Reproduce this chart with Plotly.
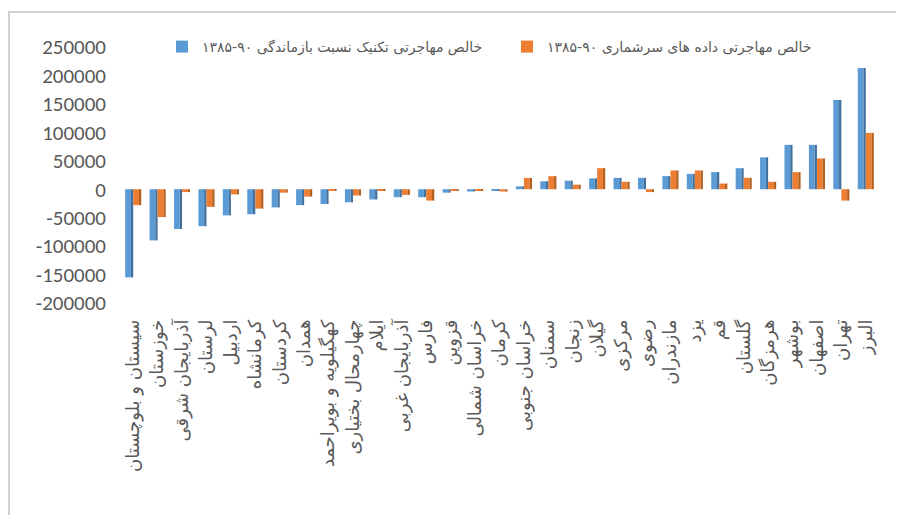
import plotly.graph_objects as go

provinces = [
    "سیستان و بلوچستان", "خوزستان", "آذربایجان شرقی", "لرستان", "اردبیل",
    "کرمانشاه", "کردستان", "همدان", "کهگیلویه و بویراحمد", "چهارمحال بختیاری",
    "ایلام", "آذربایجان غربی", "فارس", "قزوین", "خراسان شمالی", "کرمان",
    "خراسان جنوبی", "سمنان", "زنجان", "گیلان", "مرکزی", "رضوی", "مازندران",
    "یزد", "قم", "گلستان", "هرمزگان", "بوشهر", "اصفهان", "تهران", "البرز",
]

survival_ratio = [
    -155000, -90000, -70000, -65000, -46000, -44000, -32000, -28000, -26000,
    -23000, -18000, -14000, -14000, -6000, -4000, -2000, 5000, 14000, 15000,
    19000, 20000, 20000, 23000, 27000, 30000, 37000, 56000, 78000, 78000,
    157000, 213000,
]

census = [
    -28000, -49000, -5000, -31000, -9000, -34000, -6000, -13000, -2000,
    -11000, -2000, -10000, -20000, -3000, -2000, -4000, 20000, 23000, 8000,
    37000, 13000, -5000, 33000, 33000, 10000, 20000, 13000, 30000, 54000,
    -20000, 99000,
]

name_survival = "خالص مهاجرتی تکنیک نسبت بازماندگی ۹۰-۱۳۸۵"
name_census = "خالص مهاجرتی داده های سرشماری ۹۰-۱۳۸۵"

y_ticks = [-200000, -150000, -100000, -50000, 0, 50000, 100000, 150000, 200000, 250000]

# page body has an 8px default margin; figure coordinates are screen - 8
W, H = 896, 507
L, T = 113, 39
R = W - 870
B = H - 295
pw, ph = W - L - R, H - T - B

BLUE, BLUE_SIDE = "#5B9BD5", "#41719C"
ORANGE, ORANGE_SIDE = "#ED7D31", "#B5601F"

FRONT_W, SIDE_W = 0.235, 0.095

fig = go.Figure()
fig.add_trace(go.Bar(x=provinces, y=survival_ratio, name=name_survival,
                     offset=-0.33, width=FRONT_W,
                     marker=dict(color=BLUE, line=dict(width=0))))
fig.add_trace(go.Bar(x=provinces, y=survival_ratio, showlegend=False, hoverinfo="skip",
                     offset=-0.33 + FRONT_W, width=SIDE_W,
                     marker=dict(color=BLUE_SIDE, line=dict(width=0))))
fig.add_trace(go.Bar(x=provinces, y=census, name=name_census,
                     offset=0.0, width=FRONT_W,
                     marker=dict(color=ORANGE, line=dict(width=0))))
fig.add_trace(go.Bar(x=provinces, y=census, showlegend=False, hoverinfo="skip",
                     offset=FRONT_W, width=SIDE_W,
                     marker=dict(color=ORANGE_SIDE, line=dict(width=0))))


def px_x(p):
    return (p - L) / pw


def px_y(p):
    return 1 - (p - T) / ph


fig.update_layout(
    width=W, height=H,
    margin=dict(l=L, r=R, t=T, b=B),
    paper_bgcolor="white", plot_bgcolor="white",
    barmode="overlay",
    font=dict(family="Carlito, Liberation Sans Narrow, DejaVu Sans", color="#595959"),
    showlegend=True,
    legend=dict(orientation="h", x=px_x(154), xanchor="left", y=1.0, yanchor="middle",
                font=dict(size=14, family="DejaVu Sans", color="#595959"),
                bgcolor="rgba(0,0,0,0)", entrywidth=300, entrywidthmode="pixels"),
    xaxis=dict(type="category", tickangle=-90, showgrid=False, showline=False,
               zeroline=False, ticks="", ticklabelstandoff=12, automargin=False,
               range=[-0.5, len(provinces) - 0.5],
               tickfont=dict(size=18, family="DejaVu Sans", color="#595959")),
    yaxis=dict(range=[-200000, 250000], tickvals=y_ticks, ticktext=[str(v) for v in y_ticks],
               showgrid=False, showline=False, zeroline=False, ticks="",
               ticklabelstandoff=14, automargin=False,
               tickfont=dict(size=21, family="Carlito, Liberation Sans Narrow, DejaVu Sans",
                             color="#595959")),
    shapes=[
        dict(type="rect", xref="paper", yref="paper", x0=px_x(1), x1=px_x(W + 20),
             y0=px_y(4), y1=px_y(H + 20), line=dict(color="#CFCFCF", width=2),
             fillcolor="rgba(0,0,0,0)", layer="above"),
    ],
)

fig.write_html("out.html")
